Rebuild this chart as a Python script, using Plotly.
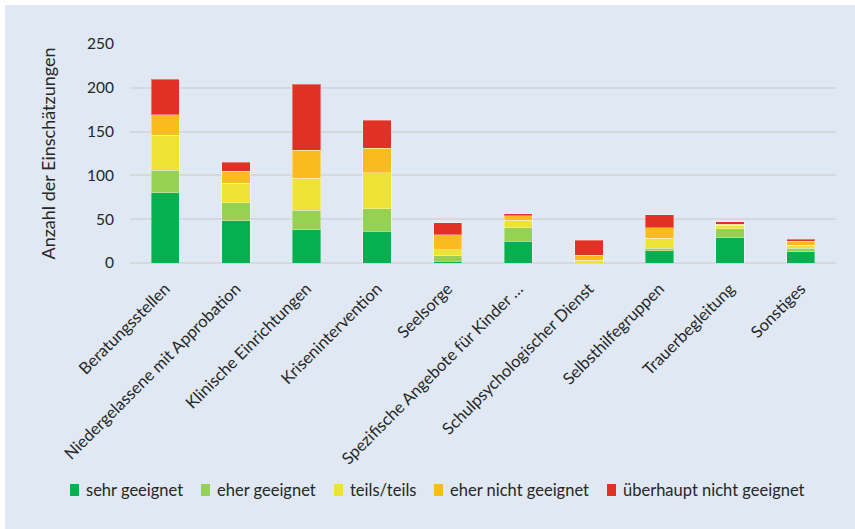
import plotly.graph_objects as go

# Kategorien (Angebote) und Anzahl der Einschätzungen je Stufe
categories = [
    "Beratungsstellen",
    "Niedergelassene mit Approbation",
    "Klinische Einrichtungen",
    "Krisenintervention",
    "Seelsorge",
    "Spezifische Angebote für Kinder …",
    "Schulpsychologischer Dienst",
    "Selbsthilfegruppen",
    "Trauerbegleitung",
    "Sonstiges",
]

sehr_geeignet = [80, 48, 38, 36, 2, 25, 0, 14, 29, 13]
eher_geeignet = [26, 21, 22, 26, 6, 15, 0, 3, 10, 4]
teils_teils = [40, 22, 37, 41, 7, 9, 3, 11, 4, 3]
eher_nicht_geeignet = [23, 14, 32, 28, 17, 5, 6, 12, 1, 5]
ueberhaupt_nicht_geeignet = [41, 10, 75, 32, 14, 2, 17, 15, 3, 2]

series_names = [
    "sehr geeignet",
    "eher geeignet",
    "teils/teils",
    "eher nicht geeignet",
    "überhaupt nicht geeignet",
]
series_values = [
    sehr_geeignet,
    eher_geeignet,
    teils_teils,
    eher_nicht_geeignet,
    ueberhaupt_nicht_geeignet,
]
series_colors = ["#04B050", "#95D153", "#ECE332", "#FABB1E", "#E03124"]

y_ticks = [0, 50, 100, 150, 200, 250]

W, H = 855, 529
ML, MR, MT, MB = 130, 19, 44, 266
BG = "#DFE8F3"
TEXT = "#262626"
FONT = "Lato, Carlito, sans-serif"

fig = go.Figure()
for name, vals, col in zip(series_names, series_values, series_colors):
    fig.add_trace(
        go.Bar(
            x=categories,
            y=vals,
            name=name,
            marker=dict(color=col, line=dict(color="rgba(255,255,255,0.35)", width=1)),
        )
    )

# Pixel -> Papierkoordinaten (für Rand und Legende)
pw = W - ML - MR
ph = H - MT - MB


def px_x(p):
    return (p - ML) / pw


def px_y(p):
    return (H - MB - p) / ph


shapes = [
    dict(type="rect", xref="paper", yref="paper",
         x0=px_x(0), x1=px_x(W), y0=px_y(5), y1=px_y(0),
         fillcolor="white", line=dict(width=0), layer="above"),
    dict(type="rect", xref="paper", yref="paper",
         x0=px_x(0), x1=px_x(5), y0=px_y(H), y1=px_y(0),
         fillcolor="white", line=dict(width=0), layer="above"),
]
annotations = []

# Legende unter dem Diagramm: Farbfeld + Beschriftung je Stufe
legend_left = [70, 201, 334, 434, 607]
legend_y = 490
for name, col, lx in zip(series_names, series_colors, legend_left):
    shapes.append(
        dict(type="rect", xref="paper", yref="paper",
             x0=px_x(lx), x1=px_x(lx + 9),
             y0=px_y(legend_y + 6), y1=px_y(legend_y - 6),
             fillcolor=col, line=dict(width=0))
    )
    annotations.append(
        dict(xref="paper", yref="paper", x=px_x(lx + 14), y=px_y(legend_y),
             xanchor="left", yanchor="middle", text=name, showarrow=False,
             font=dict(size=16.5, color=TEXT, family=FONT))
    )

fig.update_layout(
    width=W,
    height=H,
    margin=dict(l=ML, r=MR, t=MT, b=MB),
    barmode="stack",
    bargap=0.6,
    paper_bgcolor=BG,
    plot_bgcolor=BG,
    font=dict(family=FONT, size=15, color=TEXT),
    showlegend=False,
    xaxis=dict(
        type="category",
        tickangle=-45,
        showgrid=False,
        showline=False,
        ticks="",
        ticklabelstandoff=12,
        tickfont=dict(size=16.5, color=TEXT),
    ),
    yaxis=dict(
        range=[0, 250],
        tickvals=y_ticks,
        showgrid=True,
        gridcolor="#D5D9DE",
        gridwidth=1.5,
        zeroline=True,
        zerolinecolor="#D5D9DE",
        zerolinewidth=1.5,
        showline=False,
        ticks="",
        ticklabelstandoff=15,
        tickfont=dict(size=15.5, color=TEXT),
        title=dict(text="Anzahl der Einschätzungen", font=dict(size=18, color=TEXT), standoff=26),
    ),
    shapes=shapes,
    annotations=annotations,
)

fig.write_html("out.html")
